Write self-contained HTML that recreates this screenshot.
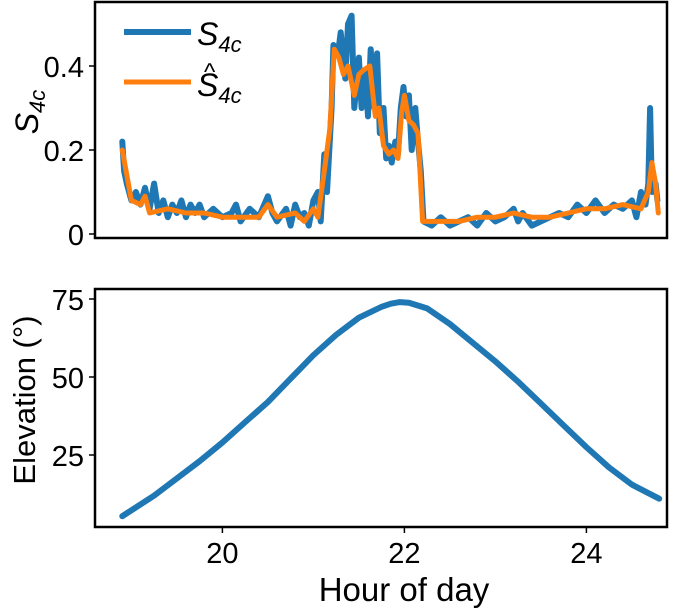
<!DOCTYPE html>
<html><head><meta charset="utf-8"><style>
body{margin:0;background:#fff;}
svg{display:block;font-family:"Liberation Sans",Arial,sans-serif;}
</style></head><body>
<svg id="chart" width="685" height="610">
<g id="topPanel"></g>
<g id="botPanel"></g>
<text transform="translate(38,112) rotate(-90)" text-anchor="middle" font-size="32" font-family="Liberation Sans, sans-serif" font-style="italic">S<tspan font-size="22" dy="7">4c</tspan></text>
<text transform="translate(35,400) rotate(-90)" text-anchor="middle" font-size="31" font-family="Liberation Sans, sans-serif">Elevation (°)</text>
<text x="404" y="601" text-anchor="middle" font-size="33" font-family="Liberation Sans, sans-serif">Hour of day</text>
<g>
<line x1="124" y1="32" x2="191" y2="32" stroke="#1f77b4" stroke-width="6"/>
<text x="197" y="45" font-size="32" font-family="Liberation Sans, sans-serif" font-style="italic">S<tspan font-size="22" dy="7">4c</tspan></text>
<line x1="124" y1="82" x2="191" y2="82" stroke="#ff7f0e" stroke-width="5"/>
<text x="197" y="96" font-size="32" font-family="Liberation Sans, sans-serif" font-style="italic">S<tspan font-size="22" dy="7">4c</tspan></text>
<text x="204" y="80" font-size="24" font-family="Liberation Sans, sans-serif">^</text>
</g>
</svg>
<script>
const blueHours=[18.9,18.92,18.95,19.0,19.05,19.1,19.15,19.2,19.25,19.3,19.35,19.4,19.45,19.5,19.55,19.6,19.65,19.7,19.75,19.8,19.9,20.0,20.1,20.15,20.2,20.3,20.4,20.5,20.55,20.6,20.7,20.75,20.8,20.85,20.9,20.95,21.0,21.05,21.08,21.12,21.15,21.2,21.22,21.27,21.3,21.35,21.38,21.42,21.45,21.5,21.53,21.57,21.6,21.63,21.67,21.7,21.73,21.77,21.8,21.83,21.86,21.9,21.93,21.96,21.99,22.02,22.05,22.08,22.12,22.15,22.18,22.21,22.3,22.4,22.5,22.6,22.7,22.8,22.9,23.0,23.1,23.2,23.25,23.3,23.4,23.5,23.6,23.7,23.8,23.9,24.0,24.1,24.2,24.3,24.4,24.5,24.55,24.6,24.65,24.68,24.7,24.72,24.76,24.78];
const blueVals=[.22,.15,.12,.08,.1,.07,.11,.06,.12,.05,.08,.04,.07,.05,.08,.04,.07,.05,.07,.04,.06,.04,.05,.07,.03,.06,.04,.09,.05,.03,.06,.02,.07,.04,.05,.02,.08,.1,.03,.19,.1,.3,.45,.43,.48,.37,.5,.52,.3,.42,.3,.39,.28,.44,.3,.43,.24,.3,.18,.21,.17,.22,.19,.3,.35,.28,.33,.2,.3,.22,.15,.03,.02,.04,.02,.03,.04,.02,.05,.03,.04,.06,.03,.05,.02,.03,.04,.05,.04,.07,.05,.08,.05,.07,.06,.08,.04,.1,.07,.12,.3,.1,.12,.08];
const orangeHours=[18.9,19.0,19.1,19.15,19.2,19.4,19.6,19.8,20.0,20.2,20.4,20.5,20.6,20.8,20.9,21.0,21.05,21.12,21.18,21.23,21.28,21.33,21.38,21.45,21.5,21.55,21.62,21.68,21.72,21.77,21.83,21.88,21.93,21.97,22.0,22.05,22.1,22.15,22.2,22.4,22.6,22.8,23.0,23.2,23.4,23.6,23.8,24.0,24.2,24.4,24.6,24.68,24.72,24.76,24.79];
const orangeVals=[.2,.08,.07,.09,.05,.06,.05,.05,.04,.04,.04,.07,.04,.05,.03,.06,.04,.15,.25,.44,.42,.38,.4,.33,.38,.39,.4,.28,.3,.21,.19,.2,.18,.29,.33,.27,.26,.24,.03,.03,.03,.04,.04,.05,.04,.04,.05,.06,.06,.07,.06,.1,.17,.12,.05];
const elevHours=[18.9,19.25,19.5,19.75,20,20.25,20.5,20.75,21,21.25,21.5,21.75,21.85,21.95,22.05,22.25,22.5,22.75,23,23.25,23.5,23.75,24,24.25,24.5,24.8];
const elevVals=[5.4,12,17.5,23,29,35.5,42,49.5,57,63.5,69,72.5,73.5,74,73.8,72,67,61,55,48.5,41.5,34.5,27.5,21,15.5,11];
const xTicks=[20,22,24];
const s4cTicks=[0,0.2,0.4];
const s4cTickLabels=["0","0.2","0.4"];
const elevTicks=[25,50,75];

const NS="http://www.w3.org/2000/svg";
const AL=95,AR=667;
const xs=h=>AL+(h-18.6)*91;
const yT=v=>234-v*420;
const yB=v=>455-(v-25)*3.12;
function mk(p,tag,attrs,txt){const e=document.createElementNS(NS,tag);for(const k in attrs)e.setAttribute(k,attrs[k]);if(txt!==undefined)e.textContent=txt;p.appendChild(e);return e;}
const gTop=document.getElementById('topPanel'),gBot=document.getElementById('botPanel');
function drawLine(g,hs,vs,yf,col,w,name){
  const d=hs.map((h,i)=>(i?'L':'M')+xs(h).toFixed(1)+' '+yf(vs[i]).toFixed(1)).join(' ');
  const p=mk(g,'path',{d:d,fill:'none',stroke:col,'stroke-width':w,'stroke-linejoin':'round','stroke-linecap':'round'});
  
  
}
drawLine(gTop,blueHours,blueVals,yT,'#1f77b4',6,'s4c-line');
drawLine(gTop,orangeHours,orangeVals,yT,'#ff7f0e',5,'s4c-hat-line');
drawLine(gBot,elevHours,elevVals,yB,'#1f77b4',6,'elevation-line');
let fr=mk(gTop,'rect',{x:AL,y:2,width:AR-AL,height:236,fill:'none',stroke:'#000','stroke-width':2.5});


fr=mk(gBot,'rect',{x:AL,y:289,width:AR-AL,height:238,fill:'none',stroke:'#000','stroke-width':2.5});


s4cTicks.forEach((v,i)=>{
  mk(gTop,'line',{x1:AL-6,x2:AL,y1:yT(v),y2:yT(v),stroke:'#000','stroke-width':1.5});
  const t=mk(gTop,'text',{x:AL-11,y:yT(v)+11,'text-anchor':'end','font-size':29},s4cTickLabels[i]);
  
  
});
elevTicks.forEach(v=>{
  mk(gBot,'line',{x1:AL-6,x2:AL,y1:yB(v),y2:yB(v),stroke:'#000','stroke-width':1.5});
  const t=mk(gBot,'text',{x:AL-11,y:yB(v)+11,'text-anchor':'end','font-size':29},String(v));
  
  
});
xTicks.forEach(v=>{
  mk(gBot,'line',{x1:xs(v),x2:xs(v),y1:527,y2:533,stroke:'#000','stroke-width':1.5});
  const t=mk(gBot,'text',{x:xs(v),y:563,'text-anchor':'middle','font-size':29},String(v));
  
  
});
</script>
</body></html>
